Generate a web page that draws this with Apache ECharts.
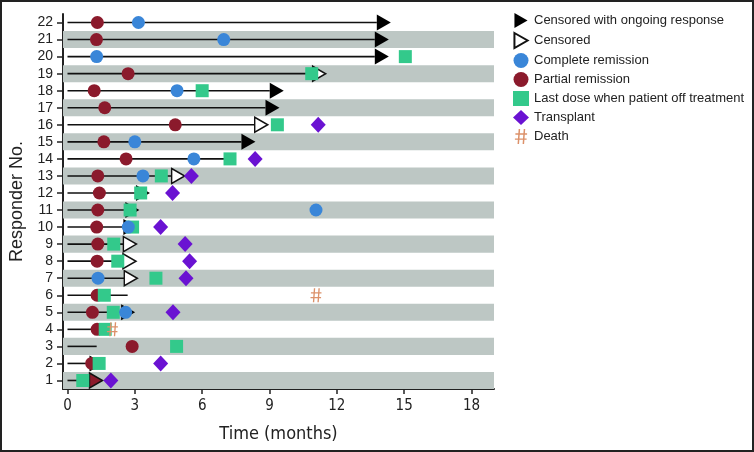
<!DOCTYPE html>
<html>
<head>
<meta charset="utf-8">
<script src="https://cdn.jsdelivr.net/npm/echarts@6/dist/echarts.min.js"></script>
<style>
  body { margin: 0; background: #fff; }
  #wrap { position: relative; width: 754px; height: 452px; }
  #chart1 { width: 754px; height: 452px; }
  #frame { position: absolute; left: 0; top: 0; width: 754px; height: 452px; box-sizing: border-box; border: 2px solid #222; pointer-events: none; }
</style>
</head>
<body>
<div id="wrap"><div id="chart1"></div><div id="frame"></div></div>
<script>
// 每个患者一行（应答者编号）
var rows = [1, 2, 3, 4, 5, 6, 7, 8, 9, 10, 11, 12, 13, 14, 15, 16, 17, 18, 19, 20, 21, 22];
// 泳道长度（月）
var lineEnd = [0.98, 0.98, 1.3, 1.32, 2.39, 2.68, 2.53, 2.47, 2.49, 2.49, 2.58, 3.05, 4.64, 7.5, 7.75, 8.34, 8.82, 9.01, 10.92, 13.69, 13.69, 13.78];
// 灰色条带所在的行
var bandRows = [1, 3, 5, 7, 9, 11, 13, 15, 17, 19, 21];
// [月, 行]
var ongoing = [[0.98, 2], [2.39, 5], [2.49, 10], [2.58, 11], [3.05, 12], [7.75, 15], [8.82, 17], [9.01, 18], [13.69, 20], [13.69, 21], [13.78, 22]];
var censored = [[2.53, 7], [2.47, 8], [2.49, 9], [4.64, 13], [8.34, 16], [10.92, 19]];
var censoredInPR = [[0.98, 1]];
var complete = [[2.59, 5], [1.36, 7], [2.71, 10], [11.07, 11], [3.36, 13], [5.63, 14], [3.0, 15], [4.88, 18], [1.3, 20], [6.96, 21], [3.16, 22]];
var partial = [[1.08, 2], [2.88, 3], [1.32, 4], [1.11, 5], [1.32, 6], [1.32, 8], [1.35, 9], [1.3, 10], [1.35, 11], [1.42, 12], [1.35, 13], [2.61, 14], [1.62, 15], [4.8, 16], [1.66, 17], [1.19, 18], [2.7, 19], [1.29, 21], [1.33, 22]];
var lastDose = [[0.68, 1], [1.41, 2], [4.86, 3], [1.68, 4], [2.04, 5], [1.64, 6], [3.94, 7], [2.24, 8], [2.06, 9], [2.9, 10], [2.79, 11], [3.26, 12], [4.18, 13], [7.24, 14], [9.35, 16], [6.0, 18], [10.88, 19], [15.05, 20]];
var transplant = [[1.93, 1], [4.15, 2], [4.7, 5], [5.28, 7], [5.44, 8], [5.24, 9], [4.15, 10], [4.68, 12], [5.52, 13], [8.36, 14], [11.17, 16]];
var death = [[2.0, 4], [11.07, 6]];
var xTicks = [0, 3, 6, 9, 12, 15, 18];

var myChart = echarts.init(document.getElementById('chart1'));

var arrowPath = 'path://M0,0 L14,8 L0,16 Z';
var hashPath = 'path://M4,0 L5.6,0 L4.4,16 L2.8,16 Z M9.4,0 L11,0 L9.8,16 L8.2,16 Z M0.5,4.6 L13,4.6 L13,6 L0.5,6 Z M0,10 L12.5,10 L12.5,11.4 L0,11.4 Z';
var font = "'Liberation Sans', Arial, sans-serif";
var narrow = "'Liberation Sans Narrow', 'DejaVu Sans Condensed', 'Liberation Sans', sans-serif";

var swimData = rows.map(function (r, i) { return [lineEnd[i], r]; });
var bandData = bandRows.map(function (r) { return [0, r]; });

var option = {
	animation: false,
	grid: { left: 63, right: 260, top: 14, bottom: 63 },
	legend: {
		orient: 'vertical',
		left: 508,
		top: 8,
		itemWidth: 16,
		itemHeight: 15,
		itemGap: 4,
		textStyle: { fontFamily: font, fontSize: 13, color: '#222' },
		data: ['Censored with ongoing response', 'Censored', 'Complete remission', 'Partial remission', 'Last dose when patient off treatment', 'Transplant', 'Death']
	},
	xAxis: {
		type: 'value',
		min: -0.2,
		max: 19,
		name: 'Time (months)',
		nameLocation: 'middle',
		nameGap: 36,
		nameTextStyle: { fontFamily: narrow, fontSize: 18, color: '#222' },
		axisLine: { onZero: false, lineStyle: { color: '#222', width: 2 } },
		axisTick: { show: true, length: 5, customValues: xTicks, lineStyle: { color: '#222', width: 1.5 } },
		axisLabel: { customValues: xTicks, margin: 10, fontFamily: narrow, fontSize: 15, color: '#222' },
		splitLine: { show: false }
	},
	yAxis: {
		type: 'value',
		min: 0.5,
		max: 22.5,
		name: 'Responder No.',
		nameLocation: 'middle',
		nameGap: 37,
		nameTextStyle: { fontFamily: font, fontSize: 18, color: '#222' },
		axisLine: { show: true, onZero: false, lineStyle: { color: '#222', width: 2 } },
		axisTick: { show: true, length: 6, customValues: rows, lineStyle: { color: '#222', width: 1.5 } },
		axisLabel: { customValues: rows, margin: 10, fontFamily: font, fontSize: 14, color: '#222' },
		splitLine: { show: false }
	},
	series: [
		{ //灰色条带
			type: 'custom',
			silent: true,
			data: bandData,
			renderItem: function (params, api) {
				var cs = params.coordSys;
				var top = api.coord([0, api.value(1) + 0.5])[1];
				var bot = api.coord([0, api.value(1) - 0.5])[1];
				return { type: 'rect', shape: { x: cs.x, y: top, width: cs.width, height: bot - top }, style: { fill: '#BDC7C4' } };
			}
		},
		{ //泳道线
			type: 'custom',
			silent: true,
			data: swimData,
			renderItem: function (params, api) {
				var s = api.coord([0, api.value(1)]);
				var e = api.coord([api.value(0), api.value(1)]);
				return { type: 'line', shape: { x1: s[0], y1: s[1], x2: e[0], y2: e[1] }, style: { stroke: '#111', lineWidth: 1.6 } };
			}
		},
		{
			name: 'Censored with ongoing response',
			type: 'scatter',
			symbol: arrowPath,
			symbolSize: [14, 16],
			symbolOffset: [7, 0],
			itemStyle: { color: '#000', opacity: 1 },
			data: ongoing
		},
		{
			name: 'Censored',
			type: 'scatter',
			symbol: arrowPath,
			symbolSize: [13, 15],
			symbolOffset: [6.5, 0],
			itemStyle: { color: '#fff', borderColor: '#111', borderWidth: 1.5, opacity: 1 },
			data: censored
		},
		{ //截尾时为部分缓解
			type: 'scatter',
			symbol: arrowPath,
			symbolSize: [13, 15],
			symbolOffset: [6.5, 0],
			itemStyle: { color: '#8B1A2C', borderColor: '#111', borderWidth: 1.5, opacity: 1 },
			data: censoredInPR
		},
		{
			name: 'Partial remission',
			type: 'scatter',
			symbol: 'circle',
			symbolSize: 13,
			itemStyle: { color: '#8B1A2C', opacity: 1 },
			data: partial
		},
		{
			name: 'Last dose when patient off treatment',
			type: 'scatter',
			symbol: 'rect',
			symbolSize: 13,
			itemStyle: { color: '#33C98B', opacity: 1 },
			data: lastDose
		},
		{
			name: 'Complete remission',
			type: 'scatter',
			symbol: 'circle',
			symbolSize: 13,
			itemStyle: { color: '#3A86D8', opacity: 1 },
			data: complete
		},
		{
			name: 'Transplant',
			type: 'scatter',
			symbol: 'diamond',
			symbolSize: [15, 16],
			itemStyle: { color: '#6A12D2', opacity: 1 },
			data: transplant
		},
		{
			name: 'Death',
			type: 'scatter',
			symbol: hashPath,
			symbolSize: [11, 14],
			itemStyle: { color: '#DC916A', opacity: 1 },
			data: death
		}
	]
};
myChart.setOption(option);
</script>
</body>
</html>
